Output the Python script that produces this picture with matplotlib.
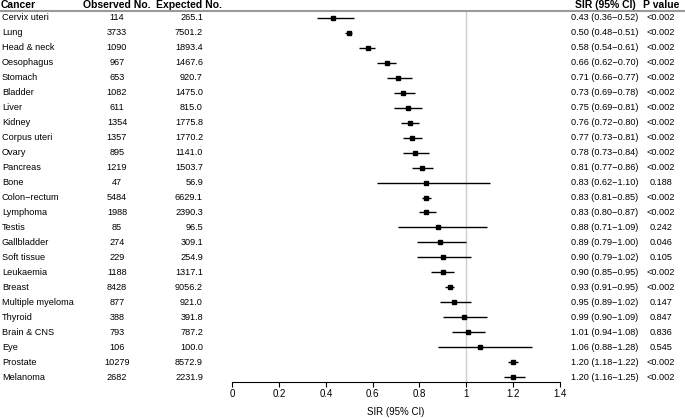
import matplotlib
matplotlib.use("Agg")
import matplotlib.pyplot as plt
from matplotlib.lines import Line2D
import matplotlib.transforms as mtransforms

plt.rcParams['font.family'] = ['Liberation Sans', 'DejaVu Sans']

cancers = ["Cervix uteri", "Lung", "Head & neck", "Oesophagus", "Stomach", "Bladder",
           "Liver", "Kidney", "Corpus uteri", "Ovary", "Pancreas", "Bone", "Colon\u2212rectum",
           "Lymphoma", "Testis", "Gallbladder", "Soft tissue", "Leukaemia", "Breast",
           "Multiple myeloma", "Thyroid", "Brain & CNS", "Eye", "Prostate", "Melanoma"]
observed = ["114", "3733", "1090", "967", "653", "1082", "611", "1354", "1357", "895",
            "1219", "47", "5484", "1988", "85", "274", "229", "1188", "8428", "877",
            "388", "793", "106", "10279", "2682"]
expected = ["265.1", "7501.2", "1893.4", "1467.6", "920.7", "1475.0", "815.0", "1775.8",
            "1770.2", "1141.0", "1503.7", "56.9", "6629.1", "2390.3", "96.5", "309.1",
            "254.9", "1317.1", "9056.2", "921.0", "391.8", "787.2", "100.0", "8572.9", "2231.9"]
sir = [0.43, 0.50, 0.58, 0.66, 0.71, 0.73, 0.75, 0.76, 0.77, 0.78, 0.81, 0.83, 0.83,
       0.83, 0.88, 0.89, 0.90, 0.90, 0.93, 0.95, 0.99, 1.01, 1.06, 1.20, 1.20]
lo = [0.36, 0.48, 0.54, 0.62, 0.66, 0.69, 0.69, 0.72, 0.73, 0.73, 0.77, 0.62, 0.81,
      0.80, 0.71, 0.79, 0.79, 0.85, 0.91, 0.89, 0.90, 0.94, 0.88, 1.18, 1.16]
hi = [0.52, 0.51, 0.61, 0.70, 0.77, 0.78, 0.81, 0.80, 0.81, 0.84, 0.86, 1.10, 0.85,
      0.87, 1.09, 1.00, 1.02, 0.95, 0.95, 1.02, 1.09, 1.08, 1.28, 1.22, 1.25]
pvals = ["<0.002"] * 11 + ["0.188", "<0.002", "<0.002", "0.242", "0.046", "0.105",
         "<0.002", "<0.002", "0.147", "0.847", "0.836", "0.545", "<0.002", "<0.002"]
xticks = [0, 0.2, 0.4, 0.6, 0.8, 1, 1.2, 1.4]

W, H = 685, 418
top_px, spine_px, row0, step = 11, 382, 18, 14.96
fig = plt.figure(figsize=(W / 100, H / 100), dpi=100)
ax = fig.add_axes([230 / W, (H - spine_px) / H, 332 / W, (spine_px - top_px) / H])

n = len(cancers)
rows = list(range(n))
ax.axvline(1, color="#cccccc", lw=1, zorder=0)
ax.hlines(rows, lo, hi, color="black", lw=1)
ax.plot(sir, rows, "s", color="black", ms=2.2)

ax.set_xlim(-0.01, 1.41)
ax.set_ylim((spine_px - row0) / step, (top_px - row0) / step)
for s in ["top", "right", "left"]:
    ax.spines[s].set_visible(False)
ax.spines["bottom"].set_bounds(0, 1.4)
ax.set_xticks(xticks)
ax.set_xticklabels([f"{t:g}" for t in xticks])
ax.set_yticks([])
ax.tick_params(axis="x", labelsize=7, length=3.6, pad=1.5)
ax.set_xlabel("SIR (95% CI)", fontsize=7, labelpad=6)

# table columns: x in figure pixels, y in data rows
tr = mtransforms.blended_transform_factory(
    mtransforms.Affine2D().scale(1 / W, 1) + fig.transFigure, ax.transData)
fs = 6.6
for i in rows:
    ax.text(2, i, cancers[i], transform=tr, ha="left", va="center", fontsize=fs)
    ax.text(117, i, observed[i], transform=tr, ha="center", va="center", fontsize=fs)
    ax.text(203, i, expected[i], transform=tr, ha="right", va="center", fontsize=fs)
    ax.text(605, i, f"{sir[i]:.2f} ({lo[i]:.2f}\u2212{hi[i]:.2f})", transform=tr,
            ha="center", va="center", fontsize=fs)
    ax.text(661, i, pvals[i], transform=tr, ha="center", va="center", fontsize=fs)

hy = (5 - row0) / step
for x, lab, ha in [(1, "Cancer", "left"), (117, "Observed No.", "center"),
                   (189, "Expected No.", "center"), (605, "SIR (95% CI)", "center"),
                   (661, "P value", "center")]:
    ax.text(x, hy, lab, transform=tr, ha=ha, va="center", fontsize=7.5,
            fontweight="bold", clip_on=False)

fig.add_artist(Line2D([0, 1], [(H - top_px) / H] * 2, color="#999999", lw=1.5,
                      transform=fig.transFigure))

fig.savefig("out.png", dpi=100)
